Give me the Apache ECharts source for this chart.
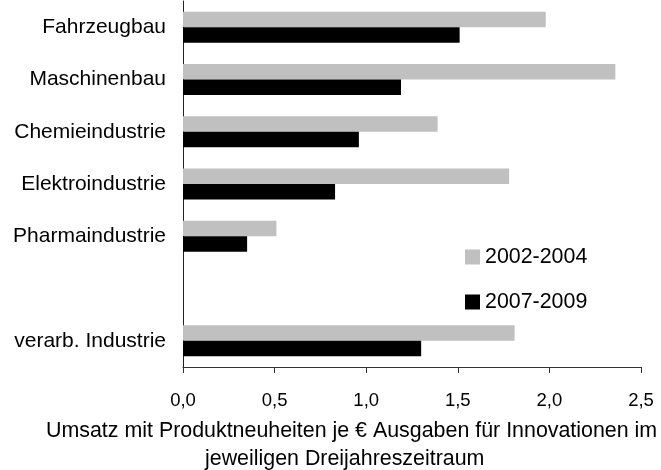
<!DOCTYPE html>
<html>
<head>
<meta charset="utf-8">
<script src="https://cdn.jsdelivr.net/npm/echarts@6/dist/echarts.min.js"></script>
<style>
  html, body { margin: 0; padding: 0; background: #fff; }
  #chart { width: 661px; height: 470px; }
</style>
</head>
<body>
<div id="chart"></div>
<script>
// Industries (the empty entry leaves a gap before the manufacturing total)
const categories = ['Fahrzeugbau', 'Maschinenbau', 'Chemieindustrie', 'Elektroindustrie', 'Pharmaindustrie', '', 'verarb. Industrie'];
const seriesNames = ['2002-2004', '2007-2009'];
const values2002 = [1.98, 2.36, 1.39, 1.78, 0.51, null, 1.81];
const values2007 = [1.51, 1.19, 0.96, 0.83, 0.35, null, 1.30];
const xTicks = { min: 0, max: 2.5, interval: 0.5 };
const axisTitleLines = [
  'Umsatz mit Produktneuheiten je € Ausgaben für Innovationen im',
  'jeweiligen Dreijahreszeitraum'
];

const FONT = '"Liberation Sans", Arial, sans-serif';
const chart = echarts.init(document.getElementById('chart'), null, { renderer: 'canvas' });

chart.setOption({
  animation: false,
  backgroundColor: '#ffffff',
  textStyle: { fontFamily: FONT, color: '#000' },
  grid: { left: 183, right: 20, top: 1, bottom: 103, containLabel: false },
  legend: {
    orient: 'vertical',
    left: 465,
    top: 246,
    padding: 0,
    itemWidth: 15,
    itemHeight: 15,
    itemGap: 23,
    icon: 'rect',
    data: seriesNames,
    textStyle: { fontFamily: FONT, fontSize: 21.4, color: '#000', lineHeight: 22 }
  },
  xAxis: {
    type: 'value',
    min: xTicks.min,
    max: xTicks.max,
    interval: xTicks.interval,
    splitLine: { show: false },
    axisLine: { show: true, lineStyle: { color: '#333', width: 1 } },
    axisTick: { show: true, length: 6, lineStyle: { color: '#333' } },
    axisLabel: {
      margin: 24,
      fontFamily: FONT,
      fontSize: 18.5,
      color: '#000',
      formatter: v => v.toFixed(1).replace('.', ',')
    }
  },
  yAxis: {
    type: 'category',
    data: categories,
    inverse: true,
    axisLine: { show: true, lineStyle: { color: '#222', width: 1 } },
    axisTick: { show: false },
    axisLabel: { interval: 0, margin: 17, fontFamily: FONT, fontSize: 21, color: '#000' }
  },
  series: [
    {
      name: seriesNames[0],
      type: 'bar',
      data: values2002,
      barWidth: 15.5,
      barGap: '0%',
      itemStyle: { color: '#c0c0c0' }
    },
    {
      name: seriesNames[1],
      type: 'bar',
      data: values2007,
      barWidth: 15.5,
      barGap: '0%',
      itemStyle: { color: '#000000' }
    }
  ],
  graphic: [
    {
      type: 'text',
      left: 46,
      top: 421,
      style: { text: axisTitleLines[0], font: '21.4px ' + FONT, fill: '#000' }
    },
    {
      type: 'text',
      left: 205,
      top: 449,
      style: { text: axisTitleLines[1], font: '21.4px ' + FONT, fill: '#000' }
    }
  ]
});
</script>
</body>
</html>
